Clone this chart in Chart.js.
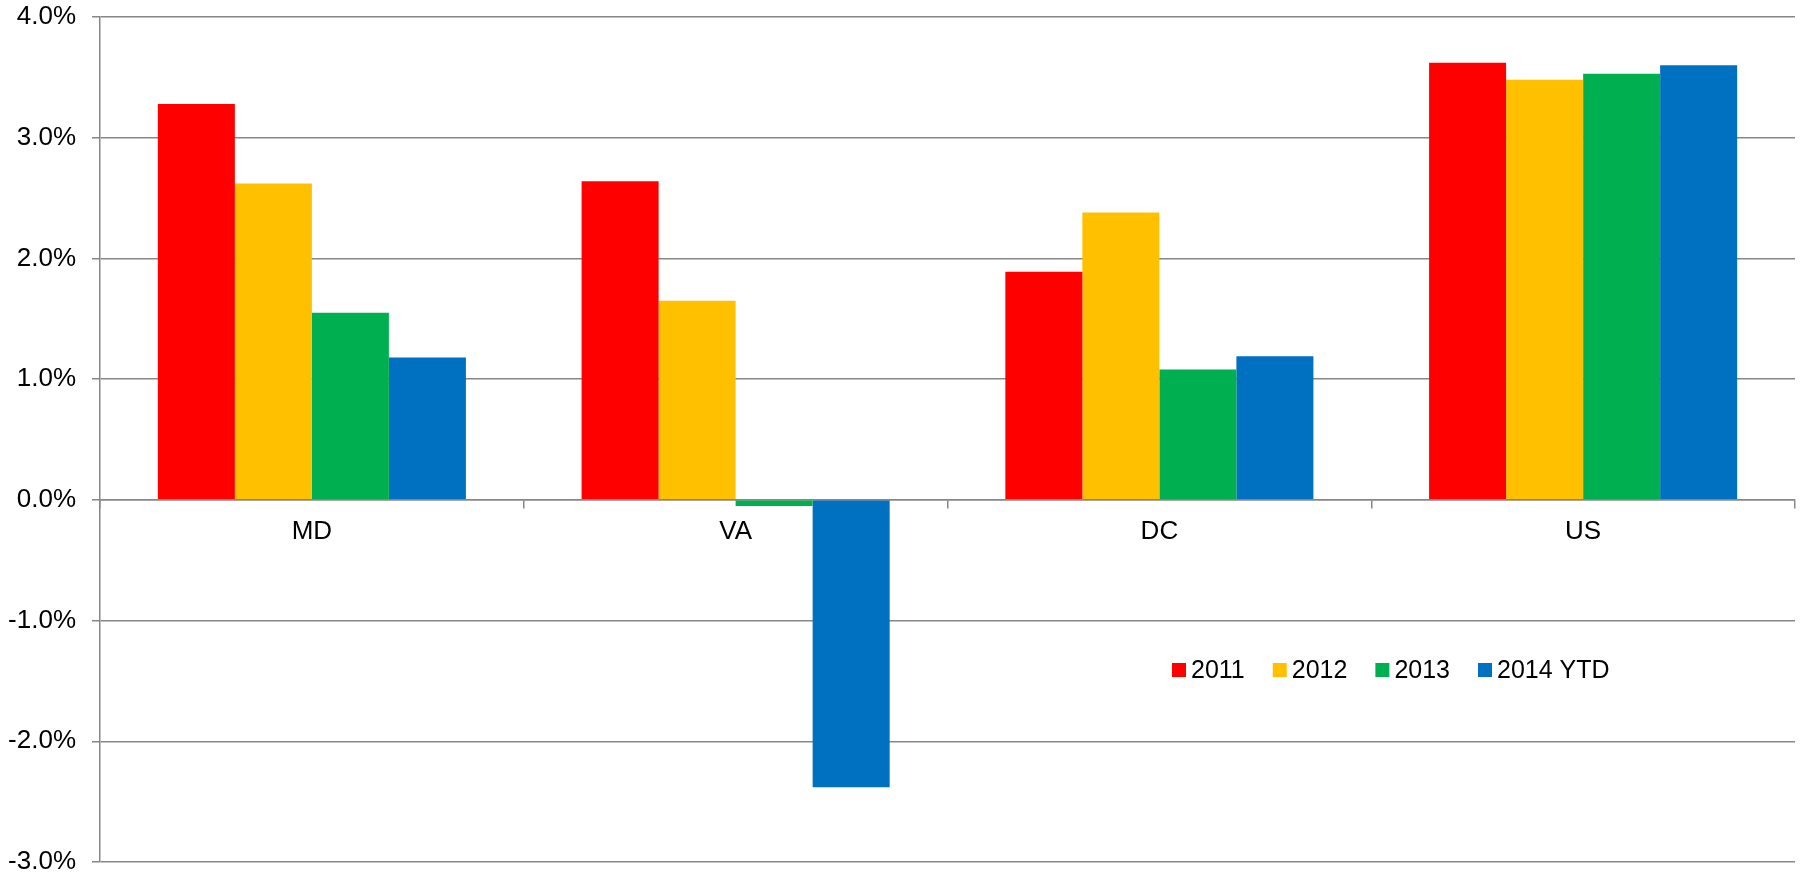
<!DOCTYPE html>
<html>
<head>
<meta charset="utf-8">
<script src="https://cdn.jsdelivr.net/npm/chart.js@4/dist/chart.umd.min.js"></script>
<style>
html, body { margin: 0; padding: 0; background: #fff; }
#wrap { width: 1800px; height: 878px; position: relative; }
</style>
</head>
<body>
<div id="wrap"><canvas id="bar-chart"></canvas></div>
<script>
//Chart data
var regions = ["MD", "VA", "DC", "US"];
var seriesNames = ["2011", "2012", "2013", "2014 YTD"];
var seriesColors = ["#ff0000", "#ffc000", "#00b050", "#0070c0"];
var v2011 = [3.28, 2.64, 1.89, 3.62];
var v2012 = [2.62, 1.65, 2.38, 3.48];
var v2013 = [1.55, -0.05, 1.08, 3.53];
var v2014 = [1.18, -2.38, 1.19, 3.60];
var yMin = -3, yMax = 4, yStep = 1;

var FONT = "'Liberation Sans', Arial, sans-serif";
var GRID = "#878787";

//Legend drawn inside the plot, like the Excel one
var legendInside = {
  id: 'legendInside',
  afterDraw: function(chart) {
    var ctx = chart.ctx;
    ctx.save();
    ctx.font = "25px " + FONT;
    ctx.textBaseline = 'middle';
    var x = 1172, y = 670;
    chart.data.datasets.forEach(function(ds) {
      ctx.fillStyle = ds.backgroundColor;
      ctx.fillRect(x, y - 7, 14, 14);
      ctx.fillStyle = '#000';
      ctx.fillText(ds.label, x + 19, y + 1);
      x += 19 + ctx.measureText(ds.label).width + 28;
    });
    ctx.restore();
  }
};

var allValues = [v2011, v2012, v2013, v2014];

var barChart = new Chart(document.getElementById("bar-chart"), {
  type: 'bar',
  data: {
    labels: regions,
    datasets: seriesNames.map(function(name, i) {
      return {
        label: name,
        data: allValues[i],
        backgroundColor: seriesColors[i],
        borderWidth: 0,
        categoryPercentage: 0.727,
        barPercentage: 1.0
      };
    })
  },
  plugins: [legendInside],
  options: {
    responsive: true,
    maintainAspectRatio: false,
    animation: false,
    layout: { padding: { top: 17, right: 5, bottom: 16, left: 0 } },
    plugins: {
      legend: { display: false },
      tooltip: { enabled: false }
    },
    scales: {
      x: {
        position: { y: 0 },
        offset: true,
        grid: {
          offset: true,
          drawOnChartArea: false,
          drawTicks: true,
          tickLength: 8,
          color: GRID,
          lineWidth: 1.5
        },
        border: { display: true, color: GRID, width: 1.5 },
        ticks: {
          color: '#000',
          padding: 8,
          font: { family: FONT, size: 26 }
        }
      },
      y: {
        min: yMin,
        max: yMax,
        afterFit: function(scale) {
          scale.width = 100;
          // tick padding should not push the plot down from the top/bottom
          scale.paddingTop = 0;
          scale.paddingBottom = 0;
        },
        grid: {
          color: GRID,
          lineWidth: 1.5,
          tickLength: 8
        },
        border: { display: true, color: GRID, width: 1.5 },
        ticks: {
          stepSize: yStep,
          color: '#000',
          padding: 16,
          font: { family: FONT, size: 26 },
          callback: function(v) { return v.toFixed(1) + "%"; }
        }
      }
    }
  }
});
</script>
</body>
</html>
